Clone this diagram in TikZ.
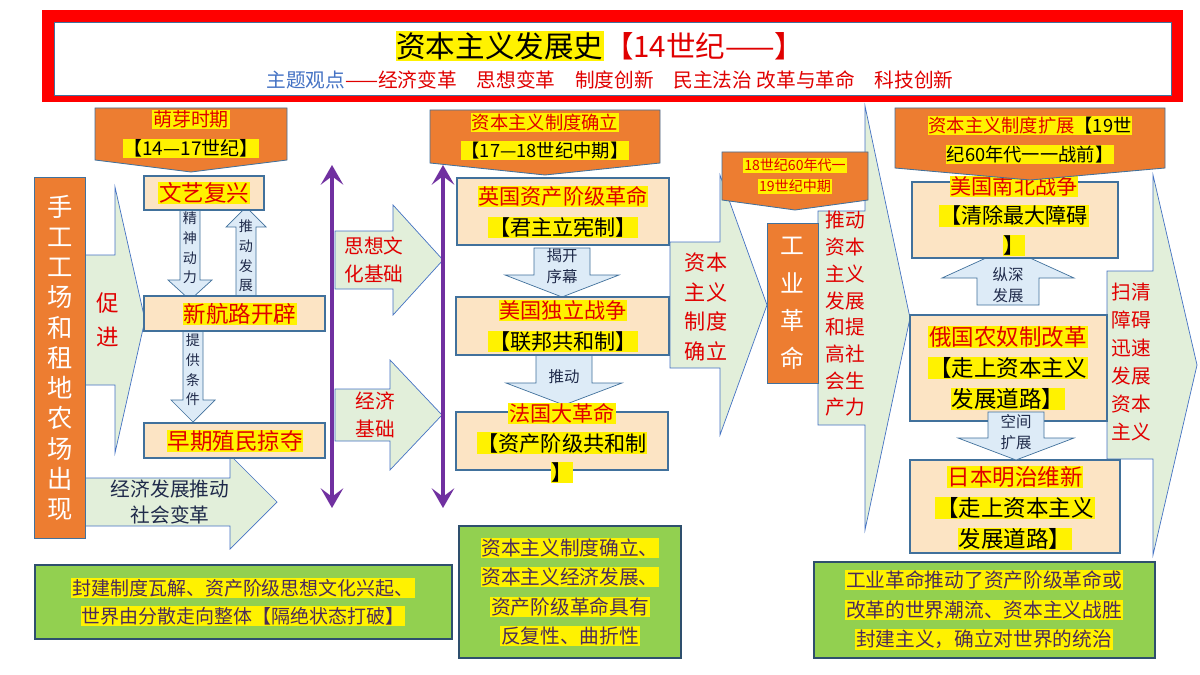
\documentclass[tikz,border=0pt]{standalone}
\usepackage{fontspec}
\setmainfont{Noto Sans CJK SC}
\usetikzlibrary{arrows.meta}
\definecolor{org}{HTML}{ED7D31}
\definecolor{bord}{HTML}{41719C}
\definecolor{afill}{HTML}{E2EFDA}
\definecolor{dfill}{HTML}{DDEBF7}
\definecolor{bfill}{HTML}{FCE4C4}
\definecolor{rd}{HTML}{E00000}
\definecolor{nv}{HTML}{1F2A4A}
\definecolor{pur}{HTML}{7030A0}
\definecolor{grn}{HTML}{92D050}
\definecolor{bt}{HTML}{4B2C5A}
\definecolor{blu}{HTML}{4472C4}
\setlength{\fboxsep}{0.6pt}
\newcommand\hl[1]{\colorbox{yellow}{#1}}
\newcommand\fs[2]{\fontsize{#1}{#2}\selectfont}
\newcommand\rarr[7]{\draw[arr] (#1,#4-#5) -- (#2,#4-#5) -- (#2,#4-#6) -- (#3,#4) -- (#2,#4+#6) -- (#2,#4+#5) -- (#1,#4+#5) -- cycle; \coordinate (#7) at (#1/2+#2/2,#4);}
\newcommand\darr[7]{\draw[darr] (#1-#5,#2) -- (#1+#5,#2) -- (#1+#5,#3) -- (#1+#6,#3) -- (#1,#4) -- (#1-#6,#3) -- (#1-#5,#3) -- cycle; \coordinate (#7) at (#1,#2/2+#3/2);}
\newcommand\bann[6]{\draw[bannst] (#1,#3) -- (#2,#3) -- (#2,#4) -- (#1/2+#2/2,#5) -- (#1,#4) -- cycle; \coordinate (#6) at (#1/2+#2/2,#3/2+#4/2);}
\tikzset{
 arr/.style={fill=afill,draw=blu,line width=0.5pt},
 darr/.style={fill=dfill,draw=bord,line width=0.5pt},
 bannst/.style={fill=org,draw=bord,line width=0.6pt},
 boxst/.style={fill=bfill,draw=bord,line width=0.8pt},
 grbox/.style={fill=grn,draw=bord!70!black,line width=1pt},
 pline/.style={draw=pur,line width=3.5pt,{Stealth[length=14pt,width=16pt,inset=6pt]}-{Stealth[length=14pt,width=16pt,inset=6pt]}},
 txt/.style={inner sep=0pt,align=center},
}
\begin{document}
\begin{tikzpicture}[x=0.025cm,y=-0.025cm]
\useasboundingbox (0,0) rectangle (1200,675);
\fill[white] (0,0) rectangle (1200,675);
% title
\fill[red] (42,10) rectangle (1183,102);
\fill[white] (54,22) rectangle (1171,95);
\draw[bord,line width=0.5pt] (54,22) rectangle (1171,95);
\node[txt,font=\fs{21}{24}] (title) at (600,46) {\hl{资本主义发展史}\textcolor{rd}{【14世纪——】}};
\node[txt,font=\fs{14}{16}] (sub) at (610,80) {\textcolor{blu}{主题观点}\textcolor{rd}{——经济变革\quad 思想变革\quad 制度创新\quad 民主法治 改革与革命\quad 科技创新}};
% big right arrows
\rarr{85}{115}{145}{320}{65}{133}{acj}
\node[txt,text=rd,font=\fs{16}{24}] (cj) at (108,320) {促\\进};
\rarr{85}{230}{277}{502}{24}{47}{ajf}
\node[txt,text=nv,font=\fs{14}{18}] (jf) at (170,502) {经济发展推动\\社会变革};
\rarr{335}{393}{443}{260}{29}{55}{asx}
\node[txt,text=rd,font=\fs{14}{20}] (sx) at (374,260) {思想文\\化基础};
\rarr{335}{390}{442}{415}{26}{55}{ajj}
\node[txt,text=rd,font=\fs{14}{20}] (jj) at (375,415) {经济\\基础};
\rarr{670}{720}{767}{305}{63}{130}{azd}
\node[txt,text=rd,font=\fs{15}{21}] (zd) at (706,307) {资本\\主义\\制度\\确立};
\rarr{818}{865}{910}{318}{107}{212}{atd}
\node[txt,text=rd,font=\fs{14}{19}] (td) at (845,314) {推动\\资本\\主义\\发展\\和提\\高社\\会生\\产力};
\rarr{1107}{1153}{1197}{365}{94}{190}{asq}
\node[txt,text=rd,font=\fs{14}{20}] (sq) at (1131,362) {扫清\\障碍\\迅速\\发展\\资本\\主义};
% purple arrows
\coordinate (p1a) at (332,165); \coordinate (p1b) at (332,508);
\coordinate (p2a) at (443,165); \coordinate (p2b) at (443,508);
\draw[pline] (p1a) -- (p1b);
\draw[pline] (p2a) -- (p2b);
% left column
\node[fill=org,draw=bord,minimum width=51*0.025cm,minimum height=361*0.025cm,anchor=north west,inner sep=0pt] (sg) at (34,177) {};
\node[txt,text=white,font=\fs{18}{21.5}] at (sg) {手\\工\\工\\场\\和\\租\\地\\农\\场\\出\\现};
% small arrows left
\darr{190}{210}{280}{300}{10}{22}{ajs}
\node[txt,text=nv,font=\fs{10}{14}] at (190,248) {精\\神\\动\\力};
\darr{246}{296}{227}{207}{10}{20}{atf}
\node[txt,text=nv,font=\fs{10}{14}] at (246,256) {推\\动\\发\\展};
\darr{193}{331}{400}{422}{10}{22}{atg}
\node[txt,text=nv,font=\fs{10}{14}] at (193,370) {提\\供\\条\\件};
% left boxes
\draw[boxst] (144,176) rectangle (264,210); \node[txt,font=\fs{16}{17}] (wy) at (204,193) {\hl{\textcolor{rd}{文艺复兴}}};
\draw[boxst] (144,296) rectangle (325,331); \node[txt,font=\fs{16}{17}] (xh) at (240,314) {\hl{\textcolor{rd}{新航路开辟}}};
\draw[boxst] (144,423) rectangle (325,458); \node[txt,font=\fs{16}{17}] (zq) at (235,441) {\hl{\textcolor{rd}{早期殖民掠夺}}};
% middle down arrows
\darr{562}{248}{275}{297}{28}{57}{ajk}
\node[txt,text=nv,font=\fs{11}{15}] at (562,266) {揭开\\序幕};
\darr{564}{355}{383}{405}{28}{58}{atd2}
\node[txt,text=nv,font=\fs{11}{15}] at (564,377) {推动};
% middle boxes
\draw[boxst] (457,178) rectangle (669,245);
\node[txt,font=\fs{15}{22}] (yg) at (563,212) {\hl{\textcolor{rd}{英国资产阶级革命}}\\\hl{【君主立宪制】}};
\draw[boxst] (456,297) rectangle (669,355);
\node[txt,font=\fs{15}{22}] (mg) at (563,326) {\hl{\textcolor{rd}{美国独立战争}}\\\hl{【联邦共和制】}};
\draw[boxst] (456,412) rectangle (668,470);
\node[txt,font=\fs{15}{21}] (fg) at (562,443) {\hl{\textcolor{rd}{法国大革命}}\\\hl{【资产阶级共和制}\\\hl{】}};
% industrial
\node[fill=org,draw=bord,minimum width=51*0.025cm,minimum height=160*0.025cm,anchor=north west,inner sep=0pt] (gy) at (767,223) {};
\node[txt,text=white,font=\fs{17}{27}] at (gy) {工\\业\\革\\命};
% right arrows
\darr{1008}{305}{278}{248}{31}{66}{azs}
\node[txt,text=nv,font=\fs{11}{15}] at (1008,285) {纵深\\发展};
% right boxes
\draw[boxst] (912,182) rectangle (1118,258);
\node[txt,font=\fs{15}{21}] (nb) at (1014,216) {\hl{\textcolor{rd}{美国南北战争}}\\\hl{【清除最大障碍}\\\hl{】}};
\draw[boxst] (910,315) rectangle (1107,421);
\node[txt,font=\fs{16}{22}] (eg) at (1008,368) {\hl{\textcolor{rd}{俄国农奴制改革}}\\\hl{【走上资本主义}\\\hl{发展道路】}};
\draw[boxst] (910,460) rectangle (1120,553);
\node[txt,font=\fs{16}{22}] (rb) at (1015,508) {\hl{\textcolor{rd}{日本明治维新}}\\\hl{【走上资本主义}\\\hl{发展道路】}};
\darr{1016}{412}{438}{460}{28}{58}{akj}
\node[txt,text=nv,font=\fs{11}{15}] at (1016,432) {空间\\扩展};
% banners
\bann{95}{287}{108}{160}{172}{b1}
\node[txt,font=\fs{13.5}{21}] at (b1) {\hl{\textcolor{rd}{萌芽时期}}\\\hl{【14—17世纪】}};
\bann{430}{660}{110}{163}{175}{b2}
\node[txt,font=\fs{13}{20}] at (b2) {\hl{\textcolor{rd}{资本主义制度确立}}\\\hl{【17—18世纪中期】}};
\bann{722}{868}{152}{200}{210}{b3}
\node[txt,font=\fs{10}{15}] at (b3) {\hl{\textcolor{rd}{18世纪60年代一}}\\\hl{\textcolor{rd}{19世纪中期}}};
\bann{895}{1165}{108}{168}{180}{b4}
\node[txt,font=\fs{13}{21}] at (1030,140) {\hl{\textcolor{rd}{资本主义制度扩展}【19世}\\\hl{纪60年代一一战前】}};
% green boxes
\draw[grbox] (35,565) rectangle (452,639);
\node[txt,text=bt,font=\fs{13.5}{20}] (g1) at (243,602) {\hl{封建制度瓦解、资产阶级思想文化兴起、}\\\hl{世界由分散走向整体【隔绝状态打破】}};
\draw[grbox] (459,526) rectangle (681,658);
\node[txt,text=bt,font=\fs{14}{21}] (g2) at (570,592) {\hl{资本主义制度确立、}\\\hl{资本主义经济发展、}\\\hl{资产阶级革命具有}\\\hl{反复性、曲折性}};
\draw[grbox] (814,562) rectangle (1155,658);
\node[txt,text=bt,font=\fs{14}{21}] (g3) at (984,610) {\hl{工业革命推动了资产阶级革命或}\\\hl{改革的世界潮流、资本主义战胜}\\\hl{封建主义，确立对世界的统治}};
\end{tikzpicture}
\end{document}
